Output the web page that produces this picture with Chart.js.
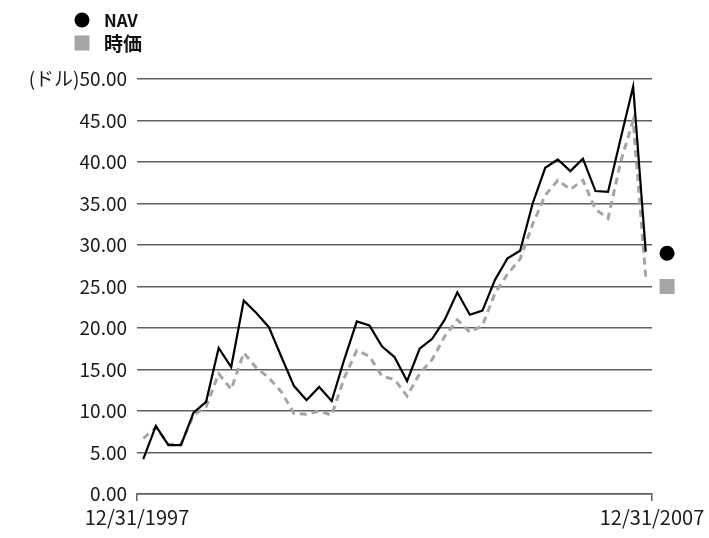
<!DOCTYPE html>
<html lang="ja">
<head>
<meta charset="utf-8">
<title>NAV / 時価</title>
<script src="https://cdn.jsdelivr.net/npm/chart.js@4"></script>
<style>
  html, body { margin: 0; padding: 0; background: #fff; }
  #wrap { width: 709px; height: 538px; }
</style>
</head>
<body>
<div id="wrap"><canvas id="chart" width="709" height="538"></canvas></div>
<script>
// quarter ends, 12/31/1997 .. 12/31/2007
const quarterEnds = [
  "12/31/1997",
  "3/31/1998", "6/30/1998", "9/30/1998", "12/31/1998",
  "3/31/1999", "6/30/1999", "9/30/1999", "12/31/1999",
  "3/31/2000", "6/30/2000", "9/30/2000", "12/31/2000",
  "3/31/2001", "6/30/2001", "9/30/2001", "12/31/2001",
  "3/31/2002", "6/30/2002", "9/30/2002", "12/31/2002",
  "3/31/2003", "6/30/2003", "9/30/2003", "12/31/2003",
  "3/31/2004", "6/30/2004", "9/30/2004", "12/31/2004",
  "3/31/2005", "6/30/2005", "9/30/2005", "12/31/2005",
  "3/31/2006", "6/30/2006", "9/30/2006", "12/31/2006",
  "3/31/2007", "6/30/2007", "9/30/2007", "12/31/2007",
];

// NAV (dollars)
const navValues = [
  4.2, 8.2, 5.9, 5.9, 9.8, 11.1, 17.6, 15.3, 23.3, 21.8,
  20.1, 16.5, 13.0, 11.3, 12.9, 11.2, 16.2, 20.8, 20.3, 17.8,
  16.5, 13.6, 17.5, 18.7, 21.0, 24.3, 21.6, 22.1, 25.8, 28.4,
  29.3, 35.0, 39.3, 40.3, 38.9, 40.4, 36.5, 36.4, 42.8, 49.1,
  29.2,
];

// market price (dollars)
const priceValues = [
  6.7, 8.0, 6.0, 6.0, 9.5, 10.5, 14.5, 12.6, 17.0, 15.2,
  14.0, 12.3, 9.7, 9.6, 10.0, 9.5, 14.0, 17.3, 16.6, 14.2,
  13.8, 11.8, 14.5, 16.2, 19.0, 21.0, 19.5, 20.3, 24.2, 26.5,
  28.3, 32.5, 36.0, 37.8, 36.7, 37.8, 34.3, 33.2, 40.0, 45.0,
  26.2,
];

// markers shown to the right of the plot (NAV, 時価)
const endMarkerValues = [29.0, 25.0];

const seriesLabels = ["NAV", "時価"];
const xTickLabels = [quarterEnds[0], quarterEnds[quarterEnds.length - 1]];
const yUnit = "(ドル)";

const FONT = "'Noto Sans CJK JP', 'Noto Sans', sans-serif";
const GRID = "#5f5f5f";
const GRAY = "#a5a5a5";

const toPoints = (arr) => arr.map((v, i) => ({ x: i, y: v }));
const lastIdx = quarterEnds.length - 1;

function drawMark(ctx, style, color, cx, cy) {
  ctx.fillStyle = color;
  if (style === "circle") {
    ctx.beginPath();
    ctx.arc(cx, cy, 7.5, 0, Math.PI * 2);
    ctx.fill();
  } else {
    ctx.fillRect(cx - 7.5, cy - 7.5, 15, 15);
  }
}

// two-line legend top left + the markers right of the plot
const sideMarks = {
  id: "sideMarks",
  afterDraw(chart) {
    const ctx = chart.ctx;
    const { x, y } = chart.scales;
    const rows = chart.data.datasets;
    ctx.save();
    rows.forEach((d, i) => {
      // legend row
      const cy = 20 + i * 23;
      drawMark(ctx, d.markStyle, d.markColor, 82, cy);
      ctx.fillStyle = "#111";
      ctx.textBaseline = "middle";
      ctx.font = (i === 0 ? "bold 17px " : "bold 19px ") + FONT;
      ctx.fillText(d.label, 104, cy + 1);

      // end marker
      drawMark(
        ctx,
        d.markStyle,
        d.markColor,
        x.getPixelForValue(lastIdx + 1.7),
        y.getPixelForValue(endMarkerValues[i])
      );
    });
    ctx.restore();
  },
};

new Chart(document.getElementById("chart"), {
  type: "line",
  data: {
    datasets: [
      {
        label: seriesLabels[0],
        data: toPoints(navValues),
        borderColor: "#000",
        borderWidth: 2.2,
        pointRadius: 0,
        tension: 0,
        markStyle: "circle",
        markColor: "#000",
      },
      {
        label: seriesLabels[1],
        data: toPoints(priceValues),
        borderColor: GRAY,
        borderWidth: 3,
        borderDash: [7, 5],
        pointRadius: 0,
        tension: 0,
        markStyle: "rect",
        markColor: GRAY,
      },
    ],
  },
  options: {
    responsive: false,
    animation: false,
    layout: { padding: { top: 79, right: 57, bottom: 0, left: 0 } },
    plugins: {
      legend: { display: false },
      tooltip: { enabled: false },
    },
    scales: {
      x: {
        type: "linear",
        min: -0.5,
        max: lastIdx + 0.5,
        afterBuildTicks: (scale) => {
          scale.ticks = [{ value: -0.5 }, { value: lastIdx + 0.5 }];
        },
        afterFit: (scale) => {
          scale.height = 44;
        },
        grid: {
          drawOnChartArea: false,
          drawTicks: true,
          tickLength: 7,
          color: GRID,
          lineWidth: 1.5,
        },
        border: { display: true, color: GRID, width: 1.5 },
        ticks: {
          autoSkip: false,
          maxRotation: 0,
          padding: 4,
          color: "#1a1a1a",
          font: { family: FONT, size: 20 },
          callback: (v) => (v < 0 ? xTickLabels[0] : xTickLabels[1]),
        },
      },
      y: {
        min: 0,
        max: 50,
        afterFit: (scale) => {
          scale.width = 137;
        },
        grid: {
          color: GRID,
          lineWidth: 1.5,
          drawTicks: false,
        },
        border: { display: false },
        ticks: {
          stepSize: 5,
          padding: 10,
          color: "#1a1a1a",
          font: { family: FONT, size: 19 },
          callback: (v) => (v === 50 ? yUnit : "") + v.toFixed(2),
        },
      },
    },
  },
  plugins: [sideMarks],
});
</script>
</body>
</html>
